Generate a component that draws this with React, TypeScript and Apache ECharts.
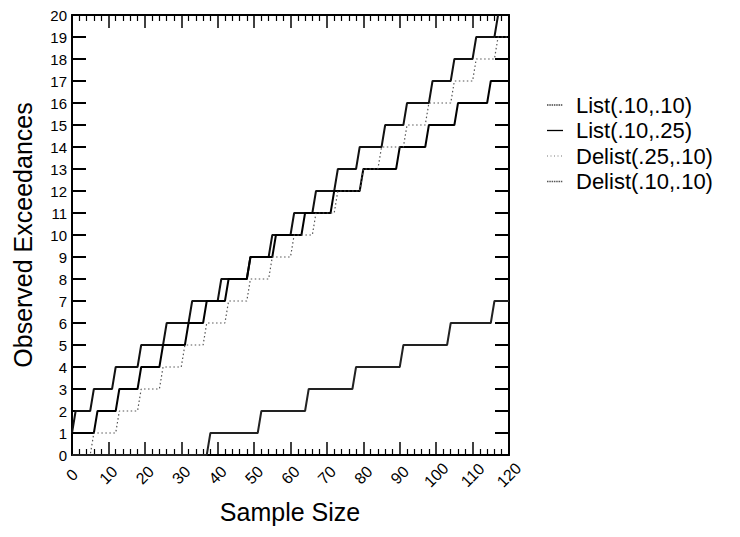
import React, { useEffect, useRef } from "react";
import * as echarts from "echarts";

// Corner points [sampleSize, observedExceedances]
const listA: number[][] = [
  [0, 1], [1, 2], [5, 2], [6, 3], [11, 3], [12, 4], [18, 4], [19, 5], [25, 5], [26, 6],
  [32, 6], [33, 7], [40, 7], [41, 8], [48, 8], [49, 9], [54, 9], [55, 10], [60, 10], [61, 11],
  [66, 11], [67, 12], [72, 12], [73, 13], [78, 13], [79, 14], [85, 14], [86, 15], [91, 15], [92, 16],
  [98, 16], [99, 17], [104, 17], [105, 18], [110, 18], [111, 19], [116, 19], [117, 20],
];
const listB: number[][] = [
  [0, 1], [6, 1], [7, 2], [12, 2], [13, 3], [18, 3], [19, 4], [24, 4], [25, 5], [31, 5],
  [32, 6], [36, 6], [37, 7], [42, 7], [43, 8], [48, 8], [49, 9], [55, 9], [56, 10], [63, 10],
  [64, 11], [71, 11], [72, 12], [79, 12], [80, 13], [89, 13], [90, 14], [97, 14], [98, 15], [105, 15],
  [106, 16], [114, 16], [115, 17], [120, 17],
];
const delistC: number[][] = [
  [0, 0], [5, 0], [6, 1], [12, 1], [13, 2], [18, 2], [19, 3], [24, 3], [25, 4], [30, 4],
  [31, 5], [36, 5], [37, 6], [42, 6], [43, 7], [48, 7], [49, 8], [54, 8], [55, 9], [60, 9],
  [61, 10], [66, 10], [67, 11], [72, 11], [73, 12], [79, 12], [80, 13], [84, 13], [85, 14], [91, 14],
  [92, 15], [97, 15], [98, 16], [104, 16], [105, 17], [110, 17], [111, 18], [116, 18], [117, 19], [120, 19],
];
const delistD: number[][] = [
  [0, 0], [37, 0], [38, 1], [51, 1], [52, 2], [64, 2], [65, 3], [77, 3], [78, 4], [90, 4],
  [91, 5], [103, 5], [104, 6], [115, 6], [116, 7], [120, 7],
];
const seriesNames = ["List(.10,.10)", "List(.10,.25)", "Delist(.25,.10)", "Delist(.10,.10)"];
const xTitle = "Sample Size";
const yTitle = "Observed Exceedances";

const FONT = '"Liberation Sans", Arial, Helvetica, sans-serif';

// plot line styles and matching legend-sample styles
const plotStyles = [
  { color: "#111", width: 2, type: "solid" as any },
  { color: "#000", width: 2, type: "solid" as any },
  { color: "#555", width: 1.2, type: [1.5, 2.5] as any },
  { color: "#222", width: 2, type: "solid" as any },
];
const legendStyles = [
  { stroke: "#444", lineWidth: 1.3, lineDash: [1.5, 0.8] },
  { stroke: "#000", lineWidth: 1.3, lineDash: null },
  { stroke: "#777", lineWidth: 1.2, lineDash: [1, 2.5] },
  { stroke: "#555", lineWidth: 1.6, lineDash: [1.5, 0.8] },
];

export default function App() {
  const ref = useRef<HTMLDivElement>(null);
  useEffect(() => {
    if (!ref.current) return;
    const chart = echarts.init(ref.current, undefined, { renderer: "svg" });
    const xCommon = {
      type: "value" as const,
      min: 0,
      max: 120,
      interval: 10,
      axisLine: { show: true, onZero: false, lineStyle: { color: "#000", width: 2 } },
      axisTick: { show: true, inside: true, length: 13, lineStyle: { color: "#000", width: 1.5 } },
      minorTick: { show: true, splitNumber: 5, length: 6, lineStyle: { color: "#000", width: 1.2 } },
      splitLine: { show: false },
      minorSplitLine: { show: false },
    };
    const yCommon = {
      type: "value" as const,
      min: 0,
      max: 20,
      interval: 1,
      axisLine: { show: true, onZero: false, lineStyle: { color: "#000", width: 2 } },
      axisTick: { show: true, inside: true, length: 14, lineStyle: { color: "#000", width: 2 } },
      splitLine: { show: false },
    };
    const datasets = [listA, listB, delistC, delistD];
    const series = datasets.map((data, i) => ({
      name: seriesNames[i],
      type: "line",
      data,
      symbol: "none",
      showSymbol: false,
      xAxisIndex: 0,
      yAxisIndex: 0,
      lineStyle: plotStyles[i],
      itemStyle: { color: plotStyles[i].color },
      z: 3,
    }));
    const legendGraphics: any[] = [];
    seriesNames.forEach((name, i) => {
      const cy = 105 + i * 25.5;
      legendGraphics.push({
        type: "line",
        shape: { x1: 547, y1: cy, x2: 563, y2: cy },
        style: legendStyles[i],
      });
      legendGraphics.push({
        type: "text",
        x: 576,
        y: cy,
        style: {
          text: name,
          fontSize: 22,
          fontFamily: FONT,
          fill: "#000",
          align: "left",
          verticalAlign: "middle",
        },
      });
    });
    chart.setOption({
      animation: false,
      backgroundColor: "#fff",
      grid: { left: 72, right: 231, top: 15, bottom: 82 },
      xAxis: [
        {
          ...xCommon,
          position: "bottom",
          axisLabel: {
            show: true,
            rotate: 45,
            align: "center",
            verticalAlign: "middle",
            margin: 20,
            fontSize: 16,
            fontFamily: FONT,
            color: "#000",
          },
        },
        { ...xCommon, position: "top", axisLabel: { show: false } },
      ],
      yAxis: [
        {
          ...yCommon,
          position: "left",
          axisLabel: { show: true, margin: 5, fontSize: 15, fontFamily: FONT, color: "#000" },
        },
        { ...yCommon, position: "right", axisLabel: { show: false } },
      ],
      series,
      graphic: [
        {
          type: "text",
          x: 23,
          y: 235,
          rotation: Math.PI / 2,
          style: {
            text: yTitle,
            fontSize: 25,
            fontFamily: FONT,
            fill: "#000",
            align: "center",
            verticalAlign: "middle",
          },
        },
        {
          type: "text",
          x: 290,
          y: 512,
          style: {
            text: xTitle,
            fontSize: 25,
            fontFamily: FONT,
            fill: "#000",
            align: "center",
            verticalAlign: "middle",
          },
        },
        ...legendGraphics,
      ],
    });
    return () => chart.dispose();
  }, []);
  return (
    <div
      ref={ref}
      style={{ position: "fixed", left: 0, top: 0, width: 740, height: 537, background: "#fff" }}
    />
  );
}
